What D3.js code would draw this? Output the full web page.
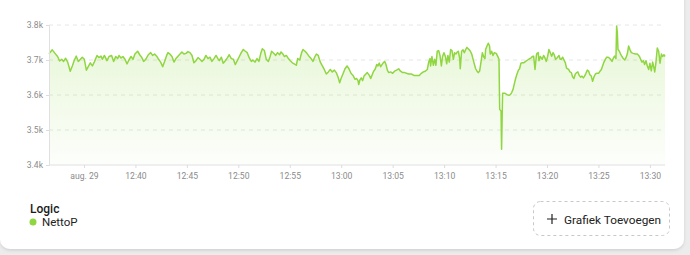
<!DOCTYPE html>
<html><head><meta charset="utf-8">
<script src="https://cdn.jsdelivr.net/npm/d3@7"></script>
<style>
html,body{margin:0;padding:0;background:#ececec;}
svg{display:block;font-family:Roboto,"Noto Sans",sans-serif;}
</style></head>
<body>
<svg id="c" width="690" height="255"></svg>
<script>
const times = ["12:31:36","12:31:55","12:32:11","12:32:26","12:32:38","12:32:50","12:33:01","12:33:13","12:33:25","12:33:40","12:33:52","12:34:04","12:34:15","12:34:27","12:34:39","12:34:50","12:35:02","12:35:14","12:35:25","12:35:37","12:35:49","12:36:00","12:36:16","12:36:27","12:36:39","12:36:47","12:36:59","12:37:14","12:37:26","12:37:41","12:37:53","12:38:05","12:38:16","12:38:24","12:38:36","12:38:47","12:38:59","12:39:11","12:39:22","12:39:34","12:39:46","12:39:57","12:40:13","12:40:25","12:40:36","12:40:48","12:41:00","12:41:15",
"12:41:29","12:41:40","12:41:52","12:42:04","12:42:15","12:42:27","12:42:39","12:42:50","12:43:02","12:43:10","12:43:21","12:43:33","12:43:45","12:43:56","12:44:08","12:44:20","12:44:31","12:44:43","12:44:55","12:45:06","12:45:18","12:45:30","12:45:41","12:45:53","12:46:05","12:46:16","12:46:28","12:46:40","12:46:51","12:47:03","12:47:15","12:47:26","12:47:38","12:47:50","12:48:01","12:48:09","12:48:21","12:48:32","12:48:44","12:48:56","12:49:07","12:49:19","12:49:31","12:49:42","12:49:54","12:50:06","12:50:17","12:50:29","12:50:41","12:50:52","12:51:04","12:51:16",
"12:51:25","12:51:37","12:51:49","12:52:00","12:52:12","12:52:20","12:52:32","12:52:43","12:52:55","12:53:06","12:53:14","12:53:26","12:53:38","12:53:49","12:54:01","12:54:09","12:54:20","12:54:28","12:54:40","12:54:52","12:55:03","12:55:15","12:55:26","12:55:38","12:55:46","12:55:58","12:56:09","12:56:17","12:56:29","12:56:40","12:56:52","12:57:04","12:57:15","12:57:27","12:57:35","12:57:46","12:57:58","12:58:10","12:58:21","12:58:33","12:58:45","12:58:56","12:59:08","12:59:20","12:59:31","12:59:43","12:59:51","12:59:59","13:00:10","13:00:22","13:00:34","13:00:45","13:00:57","13:01:09","13:01:20",
"13:01:30","13:01:38","13:01:42","13:01:49","13:01:57","13:02:05","13:02:13","13:02:24","13:02:32","13:02:44","13:02:52","13:02:59","13:03:07","13:03:19","13:03:27","13:03:34","13:03:42","13:03:50","13:03:58","13:04:05","13:04:13","13:04:21","13:04:29","13:04:37","13:04:48","13:05:00","13:05:11","13:05:23","13:05:35","13:05:46","13:05:58","13:06:10","13:06:21","13:06:33","13:06:49","13:07:04","13:07:20","13:07:35","13:07:47","13:07:59","13:08:10","13:08:22","13:08:30","13:08:38","13:08:41","13:08:49","13:08:57","13:09:05","13:09:12","13:09:20","13:09:28","13:09:36","13:09:44","13:09:51","13:09:59","13:10:07","13:10:15","13:10:22","13:10:30","13:10:38","13:10:46","13:10:54","13:11:01","13:11:09","13:11:17",
"13:11:23","13:11:31","13:11:34","13:11:42","13:11:50","13:11:58","13:12:06","13:12:13","13:12:25","13:12:33","13:12:41","13:12:48","13:12:56","13:13:04","13:13:12","13:13:19","13:13:27","13:13:35","13:13:43","13:13:50","13:13:58","13:14:02","13:14:10","13:14:18","13:14:25","13:14:29","13:14:37","13:14:45","13:14:53","13:15:04","13:15:12","13:15:20","13:15:24","13:15:32","13:15:35","13:15:41","13:15:55","13:16:07","13:16:18","13:16:26","13:16:34","13:16:42","13:16:49","13:16:57","13:17:05","13:17:13","13:17:20","13:17:28","13:17:36","13:17:44","13:17:55","13:18:07","13:18:19","13:18:27","13:18:34","13:18:42","13:18:50","13:18:58","13:19:01","13:19:09","13:19:13","13:19:21","13:19:32","13:19:40","13:19:48","13:19:56","13:20:04","13:20:11","13:20:19","13:20:27","13:20:35","13:20:42","13:20:50","13:20:58","13:21:10","13:21:17",
"13:21:23","13:21:31","13:21:39","13:21:47","13:21:54","13:22:06","13:22:14","13:22:22","13:22:29","13:22:37","13:22:45","13:22:53","13:23:00","13:23:08","13:23:16","13:23:24","13:23:32","13:23:39","13:23:47","13:23:55","13:24:03","13:24:10","13:24:18","13:24:26","13:24:34","13:24:42","13:24:49","13:25:01","13:25:09","13:25:17","13:25:24","13:25:32","13:25:40","13:25:48","13:25:55","13:26:03","13:26:11","13:26:19","13:26:27","13:26:34","13:26:42","13:26:46","13:26:50","13:26:54","13:27:02","13:27:09","13:27:17","13:27:25","13:27:33","13:27:40","13:27:48","13:27:56","13:28:04","13:28:12","13:28:23","13:28:35","13:28:47","13:28:58","13:29:06","13:29:14","13:29:22","13:29:29","13:29:37","13:29:45","13:29:53","13:30:00","13:30:08","13:30:16","13:30:24","13:30:28","13:30:35","13:30:43","13:30:51","13:30:59","13:31:07","13:31:14","13:31:22","13:31:28"];

const nettoP = [3718,3729,3719,3710,3697,3702,3696,3705,3694,3668,3683,3700,3711,3696,3702,3708,3702,3671,3681,3692,3683,3694,3713,3707,3711,3702,3713,3698,3710,3713,3696,3710,3704,3713,3706,3710,3702,3689,3700,3710,3702,3717,3725,3715,3708,3696,3702,3715,
3721,3713,3717,3711,3702,3694,3681,3696,3713,3721,3717,3710,3694,3704,3711,3717,3723,3717,3719,3724,3721,3713,3692,3698,3707,3702,3696,3702,3713,3704,3708,3696,3704,3713,3704,3698,3708,3691,3698,3706,3715,3704,3702,3687,3698,3710,3721,3730,3725,3721,3706,3696,
3700,3694,3704,3696,3721,3732,3727,3702,3696,3711,3725,3719,3713,3721,3715,3723,3717,3710,3713,3704,3698,3692,3689,3685,3704,3700,3721,3730,3725,3719,3711,3704,3696,3710,3717,3713,3694,3683,3673,3660,3666,3673,3666,3671,3664,3649,3635,3647,3660,3675,3683,3675,3662,3656,3645,
3647,3641,3630,3643,3649,3641,3654,3660,3664,3656,3647,3656,3666,3675,3687,3683,3691,3681,3687,3692,3696,3687,3671,3664,3666,3662,3668,3671,3675,3668,3664,3664,3662,3660,3660,3656,3656,3656,3662,3666,3668,3673,3694,3704,3683,3710,3685,3702,3685,3725,3727,3713,3683,3710,3721,3711,3689,3713,3694,3730,3727,3702,3721,3717,3723,
3725,3704,3675,3725,3729,3721,3730,3736,3730,3725,3717,3704,3689,3675,3668,3664,3668,3694,3721,3710,3704,3730,3740,3748,3740,3717,3725,3713,3721,3719,3711,3702,3559,3554,3445,3605,3605,3601,3599,3601,3607,3616,3631,3647,3660,3671,3675,3691,3692,3692,3696,3700,3704,3706,3710,3711,3673,3713,3719,3721,3698,3710,3702,3713,3706,3696,3711,3730,3721,3711,3721,3715,3702,3706,3713,3702,
3702,3708,3700,3692,3677,3673,3666,3664,3652,3647,3660,3664,3666,3656,3651,3654,3649,3654,3662,3671,3668,3658,3654,3639,3652,3660,3662,3662,3668,3673,3683,3694,3702,3708,3708,3706,3702,3696,3706,3711,3704,3797,3778,3730,3725,3717,3710,3704,3700,3706,3717,3740,3729,3721,3719,3717,3717,3711,3702,3694,3698,3687,3698,3683,3673,3691,3669,3694,3677,3666,3692,3734,3725,3691,3717,3710,3715,3710];

const yTicks = [3400, 3500, 3600, 3700, 3800];
const yTickLabels = ["3.4k", "3.5k", "3.6k", "3.7k", "3.8k"];
const xTicks = ["12:35","12:40","12:45","12:50","12:55","13:00","13:05","13:10","13:15","13:20","13:25","13:30"];
const xTickLabels = ["aug. 29","12:40","12:45","12:50","12:55","13:00","13:05","13:10","13:15","13:20","13:25","13:30"];
const legendTitle = "Logic";
const seriesName = "NettoP";
const buttonLabel = "Grafiek Toevoegen";

const parseT = d3.timeParse("%H:%M:%S");
const parseHM = d3.timeParse("%H:%M");
const data = times.map((t, i) => ({t: parseT(t), v: nettoP[i]}));

const svg = d3.select("#c");
const defs = svg.append("defs");
const sh = defs.append("filter").attr("id","sh").attr("x","-5%").attr("y","-5%").attr("width","110%").attr("height","115%");
sh.append("feDropShadow").attr("dx",0).attr("dy",1.5).attr("stdDeviation",1.5).attr("flood-color","#000").attr("flood-opacity",0.12);

svg.append("rect").attr("x",0).attr("y",-12).attr("width",684).attr("height",261)
  .attr("rx",10).attr("fill","#fff").attr("filter","url(#sh)");

const x = d3.scaleTime().domain(d3.extent(data, d => d.t)).range([49, 665]);
const y = d3.scaleLinear().domain([3400, 3800]).range([165, 25]);

const color = "#8fd640";
const grad = defs.append("linearGradient").attr("id","g").attr("gradientUnits","userSpaceOnUse")
  .attr("x1",0).attr("x2",0).attr("y1",y(3750)).attr("y2",y(3400));
grad.append("stop").attr("offset","0%").attr("stop-color",color).attr("stop-opacity",0.2);
grad.append("stop").attr("offset","100%").attr("stop-color",color).attr("stop-opacity",0.02);

// grid
svg.append("g").selectAll("line").data(yTicks.slice(1)).join("line")
  .attr("x1", 49).attr("x2", 665).attr("y1", d => y(d)).attr("y2", d => y(d))
  .attr("stroke", "#e6e6e6").attr("stroke-dasharray", "4,4");

// area + line
svg.append("path").datum(data).attr("fill","url(#g)")
  .attr("d", d3.area().x(d => x(d.t)).y0(y(3400)).y1(d => y(d.v)));
svg.append("path").datum(data).attr("fill","none").attr("stroke",color).attr("stroke-width",1.5)
  .attr("stroke-linejoin","round")
  .attr("d", d3.line().x(d => x(d.t)).y(d => y(d.v)));

// axes
const yAxis = d3.axisLeft(y).tickValues(yTicks).tickFormat((d,i) => yTickLabels[i]).tickSize(3).tickPadding(3);
const gy = svg.append("g").attr("transform","translate(49,0)").call(yAxis);
const xAxis = d3.axisBottom(x).tickValues(xTicks.map(parseHM)).tickFormat((d,i) => xTickLabels[i]).tickSize(3).tickPadding(5);
const gx = svg.append("g").attr("transform","translate(0,165)").call(xAxis);
[gx, gy].forEach(g => {
  g.select(".domain").attr("stroke","#e0e0e0");
  g.selectAll(".tick line").attr("stroke","#dcdcdc");
  g.selectAll("text").attr("fill","#8c8c8c").style("font-family","Roboto, sans-serif").style("font-size","8.6px");
});
gx.select(".domain").attr("d","M49,0H665");

// legend
svg.append("text").attr("x",30).attr("y",213).text(legendTitle)
  .attr("font-size","12px").attr("font-weight",500).attr("fill","#1a1a1a");
svg.append("circle").attr("cx",33).attr("cy",222).attr("r",3.5).attr("fill",color);
svg.append("text").attr("x",42).attr("y",226).text(seriesName)
  .attr("font-size","11.5px").attr("fill","#222");

// button
svg.append("rect").attr("x",533.5).attr("y",201.5).attr("width",136).attr("height",34).attr("rx",7)
  .attr("fill","none").attr("stroke","#c8c8c8").attr("stroke-dasharray","3,3");
svg.append("path").attr("d","M552,214V224M547,219H557").attr("stroke","#222").attr("stroke-width",1.2);
svg.append("text").attr("x",564).attr("y",223.5).text(buttonLabel)
  .attr("font-size","11.8px").attr("fill","#222");
</script>
</body></html>
